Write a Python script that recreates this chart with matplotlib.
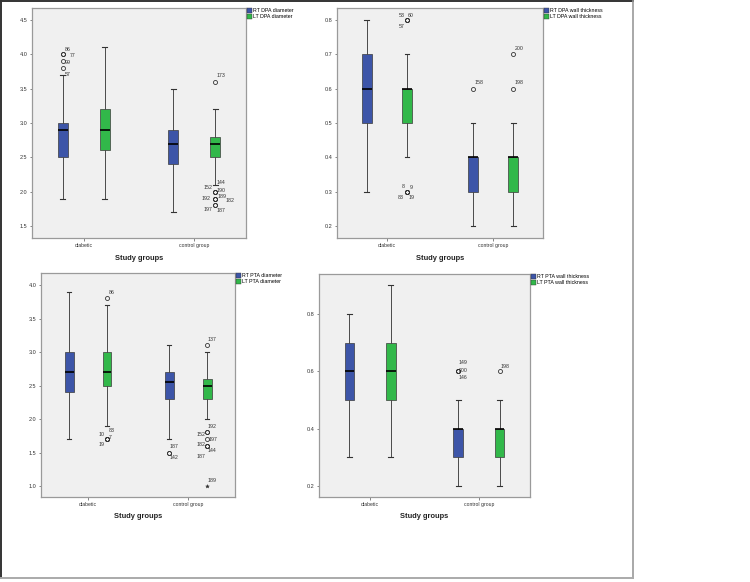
import matplotlib.pyplot as plt
import matplotlib as mpl
from matplotlib.patches import Patch
from matplotlib.lines import Line2D

mpl.rcParams.update({
    "font.family": ["Liberation Sans", "DejaVu Sans"],
    "axes.linewidth": 0.8,
})

W, H = 750, 582
BLUE = "#3d55a8"
GREEN = "#32b84a"
FACE = "#f0f0f0"

groups = ["diabetic", "control group"]

# --- box statistics: (whislo, q1, median, q3, whishi), order RT diab, LT diab, RT ctrl, LT ctrl ---
dpa_diam = [(1.9, 2.5, 2.9, 3.0, 3.7), (1.9, 2.6, 2.9, 3.2, 4.1),
            (1.7, 2.4, 2.7, 2.9, 3.5), (2.1, 2.5, 2.7, 2.8, 3.2)]
dpa_wall = [(0.3, 0.5, 0.6, 0.7, 0.8), (0.4, 0.5, 0.6, 0.6, 0.7),
            (0.2, 0.3, 0.4, 0.4, 0.5), (0.2, 0.3, 0.4, 0.4, 0.5)]
pta_diam = [(1.7, 2.4, 2.7, 3.0, 3.9), (1.9, 2.5, 2.7, 3.0, 3.7),
            (1.7, 2.3, 2.55, 2.7, 3.1), (2.0, 2.3, 2.5, 2.6, 3.0)]
pta_wall = [(0.3, 0.5, 0.6, 0.7, 0.8), (0.3, 0.5, 0.6, 0.7, 0.9),
            (0.2, 0.3, 0.4, 0.4, 0.5), (0.2, 0.3, 0.4, 0.4, 0.5)]

# --- outliers: (box index, value, case id) ---
dpa_diam_out = [(0, 4.0, "86"), (0, 4.0, "77"), (0, 3.9, "99"), (0, 3.8, "57"),
                (3, 3.6, "173"), (3, 2.0, "152"), (3, 2.0, "144"), (3, 2.0, "190"),
                (3, 1.9, "192"), (3, 1.9, "189"), (3, 1.9, "182"),
                (3, 1.8, "197"), (3, 1.8, "187")]
dpa_wall_out = [(1, 0.8, "53"), (1, 0.8, "60"), (1, 0.8, "57"),
                (1, 0.3, "8"), (1, 0.3, "9"), (1, 0.3, "83"), (1, 0.3, "19"),
                (2, 0.6, "158"), (3, 0.7, "200"), (3, 0.6, "198")]
pta_diam_out = [(1, 3.8, "86"), (1, 1.7, "10"), (1, 1.7, "83"), (1, 1.7, "7"), (1, 1.7, "19"),
                (2, 1.5, "187"), (2, 1.5, "142"),
                (3, 3.1, "137"), (3, 1.8, "192"), (3, 1.8, "152"), (3, 1.7, "197"),
                (3, 1.6, "182"), (3, 1.6, "144"), (3, 1.6, "187")]
pta_diam_extreme = [(3, 1.0, "189")]
pta_wall_out = [(2, 0.6, "149"), (2, 0.6, "200"), (2, 0.6, "146"), (3, 0.6, "198")]

# --- label offsets in pixels (layout only), same order as the outlier lists ---
dpa_diam_lbl = [(5, 5), (10, -1), (5, -1), (5, -6), (6, 6), (-7, 4), (6, 9), (6, 1),
                (-9, 0), (7, 2), (15, -2), (-7, -4), (6, -5)]
dpa_wall_lbl = [(-5, 5), (4, 5), (-5, -6), (-4, 5), (4, 4), (-6, -6), (4, -6),
                (6, 6), (6, 6), (6, 6)]
pta_diam_lbl = [(5, 6), (-5, 5), (5, 9), (3, 2), (-5, -5), (5, 6), (5, -5),
                (5, 6), (5, 6), (-6, -2), (6, 0), (-6, 1), (5, -5), (-6, -11)]
pta_diam_ext_lbl = [(5, 6)]
pta_wall_lbl = [(5, 9), (5, 1), (5, -6), (6, 5)]

panels = [
    dict(rect=(32, 8, 246, 238), stats=dpa_diam, out=dpa_diam_out, lbl=dpa_diam_lbl,
         ylim=(1.325, 4.675), yticks=[1.5, 2.0, 2.5, 3.0, 3.5, 4.0, 4.5],
         legend=["RT DPA diameter", "LT DPA diameter"], xlab_y=258),
    dict(rect=(337, 8, 543, 238), stats=dpa_wall, out=dpa_wall_out, lbl=dpa_wall_lbl,
         ylim=(0.165, 0.835), yticks=[0.2, 0.3, 0.4, 0.5, 0.6, 0.7, 0.8],
         legend=["RT DPA wall thickness", "LT DPA wall thickness"], xlab_y=258),
    dict(rect=(41, 273, 235, 497), stats=pta_diam, out=pta_diam_out, lbl=pta_diam_lbl,
         ylim=(0.836, 4.18), yticks=[1.0, 1.5, 2.0, 2.5, 3.0, 3.5, 4.0],
         legend=["RT PTA diameter", "LT PTA diameter"], xlab_y=516,
         ext=pta_diam_extreme, ext_lbl=pta_diam_ext_lbl),
    dict(rect=(319, 274, 530, 497), stats=pta_wall, out=pta_wall_out, lbl=pta_wall_lbl,
         ylim=(0.162, 0.94), yticks=[0.2, 0.4, 0.6, 0.8],
         legend=["RT PTA wall thickness", "LT PTA wall thickness"], xlab_y=517),
]

positions = [1 - 0.19, 1 + 0.19, 2 - 0.19, 2 + 0.19]
colors = [BLUE, GREEN, BLUE, GREEN]

fig = plt.figure(figsize=(W / 100, H / 100), dpi=100)

# outer frame
fig.add_artist(Line2D([0.5 / W, 633 / W], [1 - 1 / H, 1 - 1 / H], color="#333333", lw=1.4))
fig.add_artist(Line2D([1 / W, 1 / W], [1 - 1 / H, 1 - 578 / H], color="#333333", lw=1.4))
fig.add_artist(Line2D([633 / W, 633 / W], [1 - 1 / H, 1 - 578 / H], color="#999999", lw=1.2))
fig.add_artist(Line2D([1 / W, 633 / W], [1 - 578 / H, 1 - 578 / H], color="#aaaaaa", lw=1.4))

for p in panels:
    x0, y0, x1, y1 = p["rect"]
    ax = fig.add_axes([x0 / W, 1 - y1 / H, (x1 - x0) / W, (y1 - y0) / H])
    ax.set_facecolor(FACE)
    for s in ax.spines.values():
        s.set_color("#9a9a9a")
        s.set_linewidth(0.9)

    bstats = []
    for st in p["stats"]:
        lo, q1, med, q3, hi = st
        bstats.append(dict(whislo=lo, q1=q1, med=med, q3=q3, whishi=hi, fliers=[]))
    bp = ax.bxp(bstats, positions=positions, widths=0.09, capwidths=0.045,
                patch_artist=True, showfliers=False,
                boxprops=dict(edgecolor="#3a3a3a", linewidth=0.5),
                medianprops=dict(color="black", linewidth=1.2),
                whiskerprops=dict(color="#4a4a4a", linewidth=0.7),
                capprops=dict(color="#333333", linewidth=0.8))
    for patch, c in zip(bp["boxes"], colors):
        patch.set_facecolor(c)

    # outliers
    for (bi, v, cid), (dx, dy) in zip(p["out"], p["lbl"]):
        ax.plot(positions[bi], v, marker="o", ms=2.9, mfc="none", mec="#333333", mew=0.6)
        ax.annotate(cid, (positions[bi], v), xytext=(dx, dy), textcoords="offset pixels",
                    ha="center", va="center", fontsize=3.8, color="#333333")
    for (bi, v, cid), (dx, dy) in zip(p.get("ext", []), p.get("ext_lbl", [])):
        ax.plot(positions[bi], v, marker="*", ms=2.8, color="#333333", mew=0.3)
        ax.annotate(cid, (positions[bi], v), xytext=(dx, dy), textcoords="offset pixels",
                    ha="center", va="center", fontsize=3.8, color="#333333")

    ax.set_xlim(0.53, 2.47)
    ax.set_ylim(*p["ylim"])
    ax.set_xticks([1, 2])
    ax.set_xticklabels(groups, fontsize=3.7, color="#333333")
    ax.set_yticks(p["yticks"])
    ax.set_yticklabels([f"{t:.1f}" for t in p["yticks"]], fontsize=4.0, color="#333333")
    ax.tick_params(length=1.8, width=0.5, color="#555555", pad=1.5)

    handles = [Patch(facecolor=BLUE, edgecolor="#333333", linewidth=0.3),
               Patch(facecolor=GREEN, edgecolor="#333333", linewidth=0.3)]
    ax.legend(handles, p["legend"], loc="upper left", bbox_to_anchor=(1.0, 1.005),
              frameon=False, fontsize=3.8, handlelength=0.9, handleheight=1.0,
              handletextpad=0.2, labelspacing=0.15, borderpad=0.1, borderaxespad=0.1)

    fig.text((x0 + x1) / 2 / W, 1 - p["xlab_y"] / H, "Study groups",
             ha="center", va="center", fontsize=5.4, fontweight="bold", color="#222222")

fig.savefig("out.png", dpi=100)
